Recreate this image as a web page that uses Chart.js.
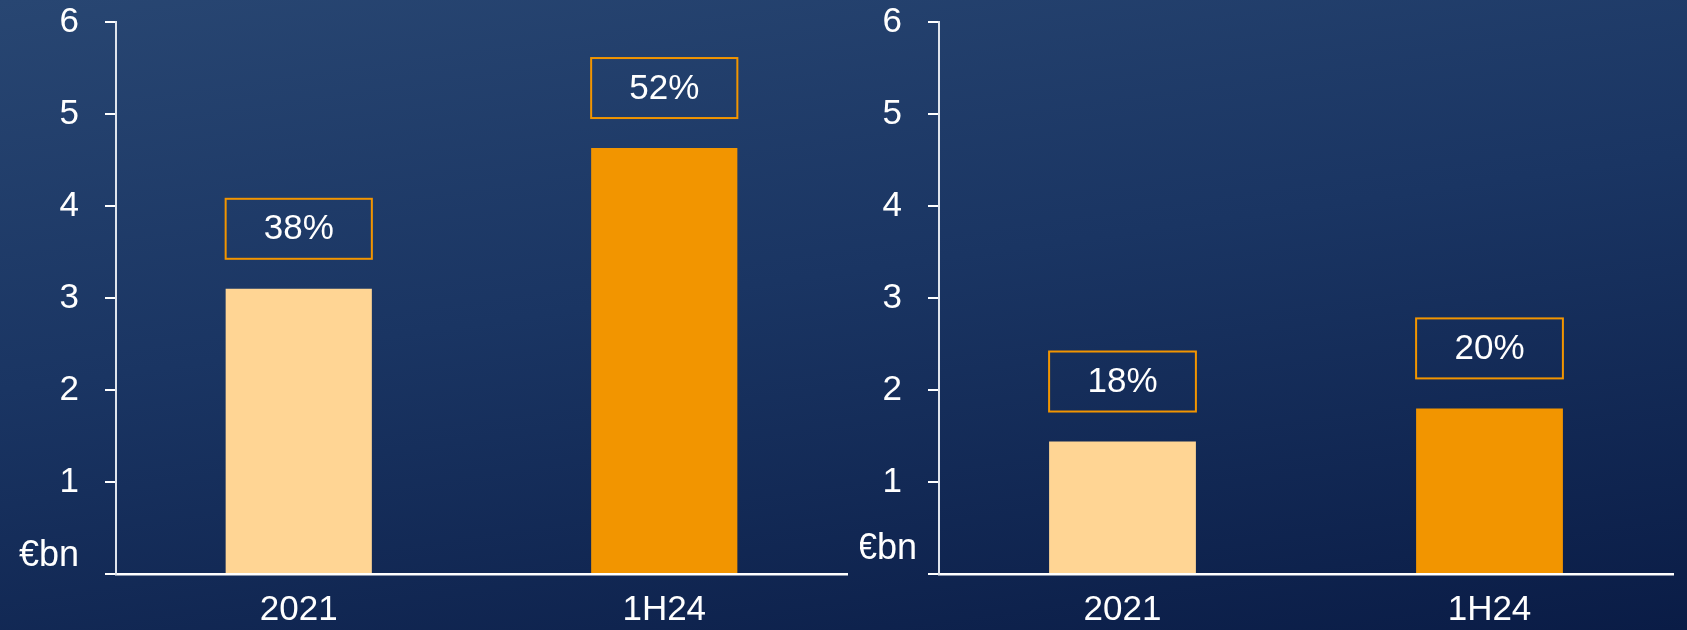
<!DOCTYPE html>
<html>
<head>
<meta charset="utf-8">
<script src="https://cdn.jsdelivr.net/npm/chart.js@4"></script>
<style>
  html, body {
    margin: 0;
    padding: 0;
    width: 1687px;
    height: 630px;
    overflow: hidden;
  }
  body {
    background: linear-gradient(172deg, #284672 0%, #1a3563 45%, #0a1c46 100%);
    font-family: "Liberation Sans", Arial, sans-serif;
  }
  .bloco {
    position: absolute;
    top: 0;
    height: 630px;
  }
  #blocoEsq { left: 0; width: 860px; }
  #blocoDir { left: 860px; width: 827px; }
</style>
</head>
<body>
<div class="bloco" id="blocoEsq"><canvas id="graficoEsq"></canvas></div>
<div class="bloco" id="blocoDir"><canvas id="graficoDir"></canvas></div>

<script>
// categorias e valores (€bn)
const categorias = ["2021", "1H24"];

const valoresEsq = [3.1, 4.63];
const percentuaisEsq = ["38%", "52%"];

const valoresDir = [1.44, 1.8];
const percentuaisDir = ["18%", "20%"];

const ticksY = [0, 1, 2, 3, 4, 5, 6];
const unidade = "€bn";

const coresBarras = ["#FFD594", "#F29500"];
const corCaixa = "#F29500";
const fonte = "'Liberation Sans', Arial, sans-serif";

// caixinha laranja com o percentual em cima de cada barra
const pluginCaixas = {
  id: "caixas",
  afterDatasetsDraw(chart, args, opts) {
    const ctx = chart.ctx;
    const meta = chart.getDatasetMeta(0);
    ctx.save();
    ctx.font = `35px ${fonte}`;
    ctx.textAlign = "center";
    ctx.textBaseline = "middle";
    for (let i = 0; i < meta.data.length; i++) {
      const barra = meta.data[i];
      const largura = barra.width;
      const altura = 60;
      const baseCaixa = barra.y - 30;
      const x0 = barra.x - largura / 2;
      ctx.strokeStyle = corCaixa;
      ctx.lineWidth = 2;
      ctx.strokeRect(x0, baseCaixa - altura, largura, altura);
      ctx.fillStyle = "#ffffff";
      ctx.fillText(opts.textos[i], barra.x, baseCaixa - altura / 2 + 1);
    }
    ctx.restore();
  },
};

// texto da unidade ao lado do eixo
const pluginUnidade = {
  id: "unidade",
  afterDraw(chart, args, opts) {
    const ctx = chart.ctx;
    const area = chart.chartArea;
    ctx.save();
    ctx.font = `36px ${fonte}`;
    ctx.fillStyle = "#ffffff";
    ctx.textAlign = "right";
    ctx.textBaseline = "middle";
    ctx.fillText(unidade, area.left - opts.dx, area.bottom - opts.dy);
    ctx.restore();
  },
};

function criarGrafico(canvasId, valores, percentuais, larguraEixo, padDireita, unidadeDx, unidadeDy) {
  return new Chart(document.getElementById(canvasId), {
    type: "bar",
    data: {
      labels: categorias,
      datasets: [
        {
          data: valores,
          backgroundColor: coresBarras,
          borderWidth: 0,
          barPercentage: 0.4,
          categoryPercentage: 1,
        },
      ],
    },
    options: {
      responsive: true,
      maintainAspectRatio: false,
      animation: false,
      layout: {
        padding: { top: 22, right: padDireita, bottom: 0, left: 0 },
      },
      plugins: {
        legend: { display: false },
        tooltip: { enabled: false },
        caixas: { textos: percentuais },
        unidade: { dx: unidadeDx, dy: unidadeDy },
      },
      scales: {
        x: {
          afterFit(scale) {
            scale.height = 56;
            scale.paddingLeft = 0;
            scale.paddingRight = 0;
          },
          grid: { display: false, drawTicks: false },
          border: { display: true, color: "#ffffff", width: 2.5 },
          ticks: {
            color: "#ffffff",
            font: { size: 35, family: fonte },
            padding: 15,
          },
        },
        y: {
          min: 0,
          max: 6,
          afterFit(scale) {
            scale.width = larguraEixo;
            scale.paddingTop = 0;
            scale.paddingBottom = 0;
          },
          afterBuildTicks(scale) {
            scale.ticks = ticksY.map((v) => ({ value: v }));
          },
          grid: {
            drawOnChartArea: false,
            drawTicks: true,
            tickLength: 11,
            color: "#ffffff",
            lineWidth: 2,
          },
          border: { display: true, color: "#dfe4ec", width: 2 },
          ticks: {
            color: "#ffffff",
            font: { size: 35, family: fonte },
            padding: 26,
            callback: (v) => (v === 0 ? "" : v),
          },
        },
      },
    },
    plugins: [pluginCaixas, pluginUnidade],
  });
}

criarGrafico("graficoEsq", valoresEsq, percentuaisEsq, 116, 13, 37, 18);
criarGrafico("graficoDir", valoresDir, percentuaisDir, 79, 14, 22, 25);
</script>
</body>
</html>
